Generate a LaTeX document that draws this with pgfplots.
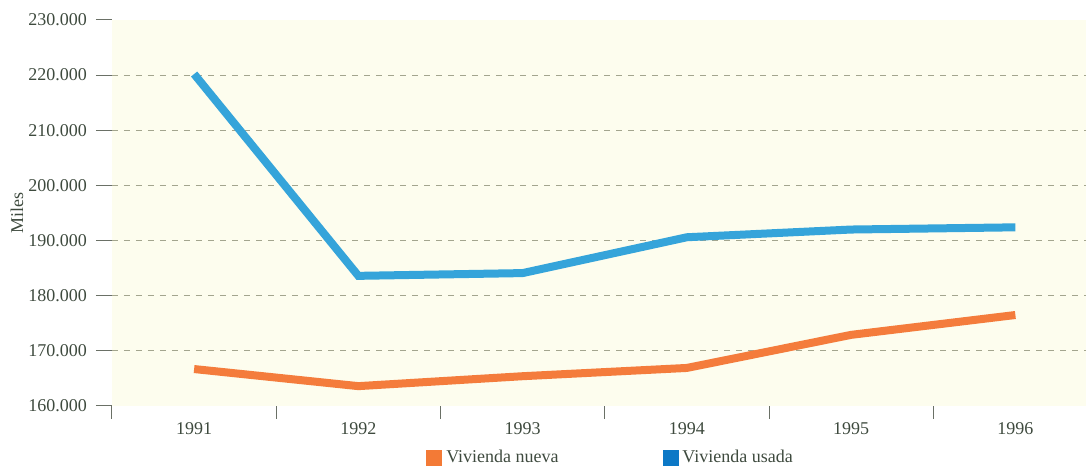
\documentclass[border=0pt]{standalone}
\usepackage{fontspec}
\setmainfont{Liberation Serif}
\usepackage{pgfplots}
\pgfplotsset{compat=1.18}
\usetikzlibrary{calc}
\definecolor{Paper}{HTML}{FDFDEE}
\definecolor{Nueva}{HTML}{F47C3C}
\definecolor{Usada}{HTML}{35A4DA}
\definecolor{NuevaKey}{HTML}{F37A36}
\definecolor{UsadaKey}{HTML}{0C78C6}
\definecolor{GridC}{HTML}{A3A58E}
\definecolor{TickC}{HTML}{6A7066}
\definecolor{Txt}{HTML}{3E4A3E}

\begin{document}
\begin{tikzpicture}
  \begin{axis}[
    name=ax,
    scale only axis,
    width=487pt, height=193pt,
    xmin=-0.5, xmax=5.43,
    ymin=160000, ymax=230000,
    scaled y ticks=false,
    xtick={0,1,2,3,4,5},
    xticklabels={1991,1992,1993,1994,1995,1996},
    minor xtick={-0.5,0.5,1.5,2.5,3.5,4.5},
    ytick={160000,170000,180000,190000,200000,210000,220000,230000},
    yticklabels={160.000,170.000,180.000,190.000,200.000,210.000,220.000,230.000},
    extra y ticks={170000,180000,190000,200000,210000,220000},
    extra y tick labels={},
    extra y tick style={grid=major, major tick length=0pt},
    xtick pos=bottom, ytick pos=left,
    tick align=outside,
    x tick style={draw=none},
    minor x tick style={draw=TickC, line width=0.5pt},
    y tick style={draw=TickC, line width=0.5pt},
    major tick length=8pt,
    minor tick length=6.5pt,
    axis line style={draw=none},
    axis background/.style={fill=Paper},
    major grid style={GridC, line width=0.5pt, dash pattern=on 3pt off 3pt},
    tick label style={font=\fontsize{9}{10}\selectfont, text=Txt},
    yticklabel style={xshift=-1pt},
    xticklabel style={yshift=3pt},
    ylabel={Miles},
    every axis y label/.style={at={(axis description cs:-0.0975,0.5)}, rotate=90, anchor=center, font=\fontsize{9}{10}\selectfont, text=Txt},
    legend style={at={(axis description cs:0.513,-0.135)}, anchor=center, draw=none, fill=none,
      legend columns=2, font=\fontsize{9}{10}\selectfont, text=Txt,
      /tikz/every even column/.append style={column sep=50pt}},
    legend image code/.code={\fill[#1] (0pt,-3.75pt) rectangle (7.5pt,3.75pt);},
  ]
    \addplot[Nueva, line width=4pt, forget plot] coordinates {
      (0,166700) (1,163600) (2,165400) (3,166900) (4,172900) (5,176500)
    };
    \addplot[Usada, line width=4pt, forget plot] coordinates {
      (0,220200) (1,183600) (2,184100) (3,190600) (4,192000) (5,192400)
    };
    \addlegendimage{NuevaKey}
    \addlegendentry{Vivienda nueva}
    \addlegendimage{UsadaKey}
    \addlegendentry{Vivienda usada}
  \end{axis}
  \pgfresetboundingbox
  \path[use as bounding box] ($(ax.south west)+(-56pt,-31pt)$) rectangle ($(ax.north east)+(0pt,10pt)$);
\end{tikzpicture}
\end{document}
